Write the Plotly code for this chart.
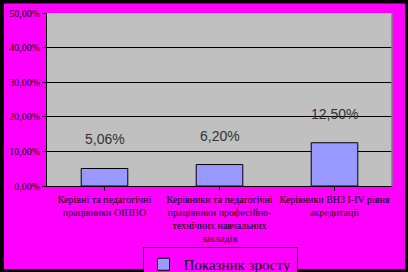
import plotly.graph_objects as go

categories = [
    "Керівні та педагогічні<br>працівники ОІППО",
    "Керівники та педагогічні<br>працівники професійно-<br>технічних навчальних<br>закладів",
    "Керівники ВНЗ І-ІV рівня<br>акредитації",
]
values = [0.0506, 0.062, 0.125]
value_labels = ["5,06%", "6,20%", "12,50%"]
y_ticks = [0, 0.1, 0.2, 0.3, 0.4, 0.5]
y_tick_labels = ["0,00%", "10,00%", "20,00%", "30,00%", "40,00%", "50,00%"]
series_name = "Показник зросту"

W, H = 408, 272
L, R, T, B = 47, 392, 13, 186
pw, ph = R - L, B - T
SERIF = "Liberation Serif"

def px(x):
    return (x - L) / pw

def py(y):
    return (B - y) / ph

fig = go.Figure()
fig.add_trace(go.Bar(
    x=list(range(len(categories))), y=values, name=series_name,
    marker=dict(color="#9999FF", line=dict(color="black", width=1)),
    width=0.405, showlegend=True,
))

for i, (v, t) in enumerate(zip(values, value_labels)):
    fig.add_annotation(x=i, y=v, text=t, showarrow=False, yanchor="bottom",
                       yshift=19, font=dict(family="Liberation Sans", size=14, color="#333333"))

shapes = []
for x0, y0, x1, y1 in [(0, 0, 4, H), (0, 0, W, 3.5), (405, 0, W, H), (0, 269, W, H)]:
    shapes.append(dict(type="rect", xref="paper", yref="paper",
                       x0=px(x0), x1=px(x1), y0=py(y1), y1=py(y0),
                       fillcolor="black", line=dict(width=0), layer="above"))
shapes.append(dict(type="line", xref="paper", yref="paper", x0=1, x1=1, y0=0, y1=1,
                   line=dict(color="#808080", width=1.5), layer="above"))

fig.update_layout(
    width=W, height=H,
    font=dict(family=SERIF),
    margin=dict(l=L, r=W - R, t=T, b=H - B, autoexpand=False),
    paper_bgcolor="#FF00FF", plot_bgcolor="#C0C0C0",
    shapes=shapes,
    xaxis=dict(
        tickmode="array", tickvals=list(range(len(categories))), ticktext=categories,
        range=[-0.5, 2.5], tickson="boundaries", ticks="outside", ticklen=4,
        tickcolor="black", showline=True, linecolor="black", linewidth=1,
        showgrid=False, tickangle=0, automargin=False,
        tickfont=dict(family=SERIF, size=10, color="black"),
    ),
    yaxis=dict(
        range=[0, 0.5], tickmode="array", tickvals=y_ticks, ticktext=y_tick_labels,
        ticks="outside", ticklen=4, tickcolor="black", showline=True,
        linecolor="black", linewidth=1, showgrid=True, gridcolor="black",
        gridwidth=1, zeroline=False, automargin=False,
        tickfont=dict(family=SERIF, size=10, color="black"),
    ),
    legend=dict(
        orientation="h", x=px(220), xanchor="center", y=py(247), yanchor="top",
        bgcolor="#FF00FF", bordercolor="black", borderwidth=1,
        font=dict(family=SERIF, size=15, color="black"),
    ),
)

fig.write_html("out.html")
